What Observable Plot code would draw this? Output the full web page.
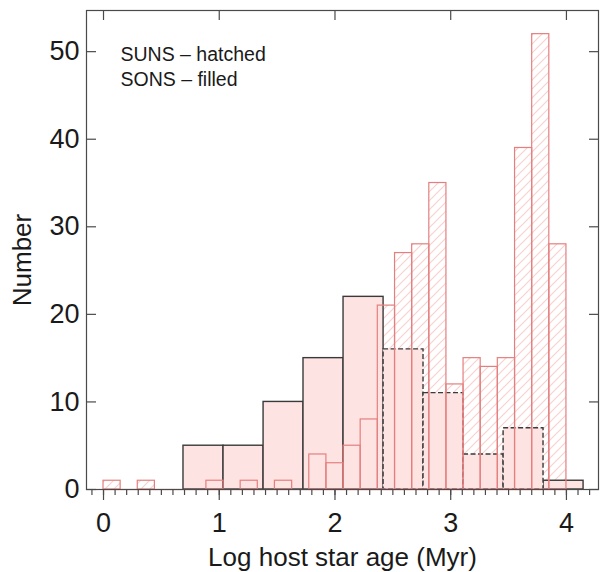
<!DOCTYPE html>
<html><head><meta charset="utf-8">
<script src="https://cdn.jsdelivr.net/npm/d3@7"></script>
<script src="https://cdn.jsdelivr.net/npm/@observablehq/plot@0.6"></script>
<style>
html,body{margin:0;padding:0;background:#fff;}
#chart svg{display:block;}
</style></head><body><div id="chart"></div>
<script>
// SUNS histogram (hatched): bin edges and counts
const sunsEdges = [0, 0.148, 0.296, 0.444, 0.593, 0.741, 0.889, 1.037, 1.185, 1.333, 1.481, 1.630, 1.778, 1.926, 2.074, 2.222, 2.370, 2.519, 2.667, 2.815, 2.963, 3.111, 3.259, 3.407, 3.556, 3.704, 3.852, 4.0];
const sunsCounts = [1, 0, 1, 0, 0, 0, 1, 0, 1, 0, 1, 0, 4, 3, 5, 8, 21, 27, 28, 35, 12, 15, 14, 15, 39, 52, 28];
// SONS histogram (filled): bin edges and counts
const sonsEdges = [0.691, 1.037, 1.383, 1.728, 2.074, 2.420, 2.765, 3.111, 3.457, 3.802, 4.148];
const sonsCounts = [5, 5, 10, 15, 22, 16, 11, 4, 7, 1];
// axes
const xTicks = [0, 1, 2, 3, 4];
const xMinorTicks = [-0.1, 0, 0.1, 0.2, 0.3, 0.4, 0.5, 0.6, 0.7, 0.8, 0.9, 1, 1.1, 1.2, 1.3, 1.4, 1.5, 1.6, 1.7, 1.8, 1.9, 2, 2.1, 2.2, 2.3, 2.4, 2.5, 2.6, 2.7, 2.8, 2.9, 3, 3.1, 3.2, 3.3, 3.4, 3.5, 3.6, 3.7, 3.8, 3.9, 4, 4.1, 4.2];
const yTicks = [0, 10, 20, 30, 40, 50];
const legendLines = ["SUNS – hatched", "SONS – filled"];
const xTitle = "Log host star age (Myr)";
const yTitle = "Number";

const suns = sunsCounts.map((n, i) => ({x1: sunsEdges[i], x2: sunsEdges[i + 1], n}));
const sons = sonsCounts.map((n, i) => ({x1: sonsEdges[i], x2: sonsEdges[i + 1], n, dashed: i >= 5 && i <= 8}));

const RED = "#e57f7f";
const PINK = "#fde3e1";
const DARK = "#3a3a3a";
const AX = "#4a4a4a";
const FONT = "'Liberation Sans', Arial, Helvetica, sans-serif";

const chart = Plot.plot({
  width: 600,
  height: 572,
  marginLeft: 86,
  marginRight: 2,
  marginTop: 10,
  marginBottom: 83,
  style: {fontFamily: FONT, background: "#fff", color: "#111"},
  x: {domain: [-0.147, 4.277]},
  y: {domain: [0, 54.7]},
  marks: [
    // hatched SUNS background
    Plot.rect(suns, {x1: "x1", x2: "x2", y1: 0, y2: "n", fill: "url(#hatch)"}),
    // SONS filled bars
    Plot.rect(sons.filter(d => !d.dashed), {x1: "x1", x2: "x2", y1: 0, y2: "n", fill: PINK, stroke: DARK, strokeWidth: 1.4}),
    Plot.rect(sons.filter(d => d.dashed), {x1: "x1", x2: "x2", y1: 0, y2: "n", fill: PINK, stroke: DARK, strokeWidth: 1.4, strokeDasharray: "5,2.5"}),
    // SUNS outlines
    Plot.ruleY(suns, {y: 0, x1: "x1", x2: "x2", stroke: RED, strokeWidth: 1.2}),
    Plot.rect(suns.filter(d => d.n > 0), {x1: "x1", x2: "x2", y1: 0, y2: "n", fill: "none", stroke: RED, strokeWidth: 1.2}),
    // frame
    Plot.frame({stroke: AX, strokeWidth: 1.2}),
    // ticks
    Plot.axisX(xTicks, {anchor: "bottom", tickSize: 11, tickFormat: () => "", label: null, stroke: AX, strokeWidth: 1.2}),
    Plot.axisX(xMinorTicks, {anchor: "bottom", tickSize: 6, tickFormat: () => "", label: null, stroke: AX, strokeWidth: 1.2}),
    Plot.axisX(xTicks, {anchor: "bottom", tickSize: 0, tickPadding: 23, fontSize: 27, tickFormat: d => String(d), label: null, fill: "#1a1a1a"}),
    Plot.axisX(xTicks, {anchor: "top", tickSize: -9, tickFormat: () => "", label: null, stroke: AX, strokeWidth: 1.2}),
    Plot.axisY(yTicks, {anchor: "left", tickSize: -10, tickFormat: () => "", label: null, stroke: AX, strokeWidth: 1.2}),
    Plot.axisY(yTicks, {anchor: "left", tickSize: 0, tickPadding: 7, fontSize: 27, tickFormat: d => String(d), label: null, fill: "#1a1a1a"}),
    Plot.axisY(yTicks, {anchor: "right", tickSize: -10, tickFormat: () => "", label: null, stroke: AX, strokeWidth: 1.2}),
    // titles
    Plot.text([xTitle], {frameAnchor: "bottom", lineAnchor: "middle", textAnchor: "middle", dy: 68, fontSize: 26, fill: "#1a1a1a"}),
    Plot.text([yTitle], {frameAnchor: "left", lineAnchor: "middle", textAnchor: "middle", rotate: -90, dx: -64, dy: 10, fontSize: 26, fill: "#1a1a1a"}),
    // legend note
    Plot.text([legendLines.join("\n")], {frameAnchor: "top-left", textAnchor: "start", lineAnchor: "top", lineHeight: 1.28, dx: 34, dy: 33, fontSize: 19.5, fill: "#1a1a1a"})
  ]
});

// hatch pattern definition
const svg = d3.select(chart);
const defs = svg.insert("defs", ":first-child");
const pat = defs.append("pattern")
  .attr("id", "hatch")
  .attr("patternUnits", "userSpaceOnUse")
  .attr("width", 9).attr("height", 9);
pat.append("rect").attr("width", 9).attr("height", 9).attr("fill", "#fff");
pat.append("path")
  .attr("d", "M-1,1 l2,-2 M0,9 l9,-9 M8,10 l2,-2")
  .attr("stroke", "#f8d3cf").attr("stroke-width", 1.2).attr("fill", "none");

document.getElementById("chart").appendChild(chart);
</script></body></html>
